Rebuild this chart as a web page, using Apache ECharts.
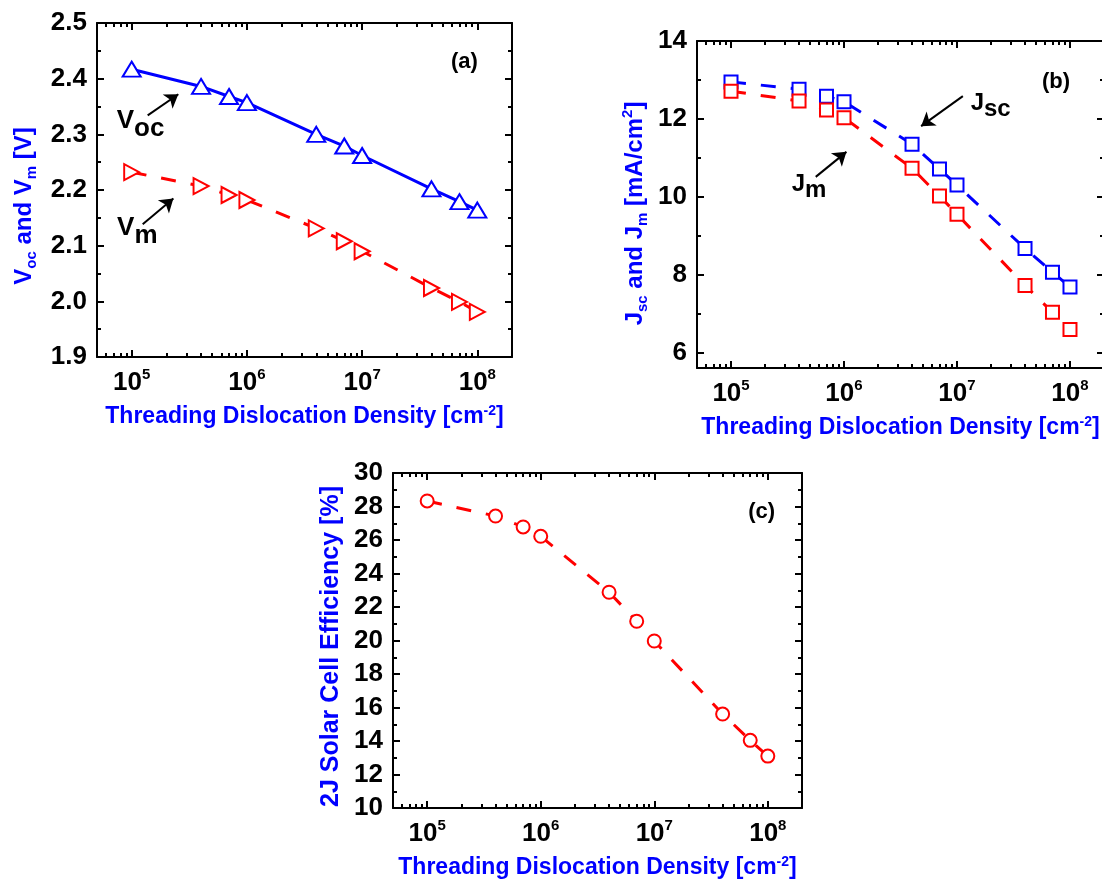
<!DOCTYPE html>
<html><head><meta charset="utf-8">
<script src="https://cdn.jsdelivr.net/npm/echarts@6/dist/echarts.min.js"></script>
<style>html,body{margin:0;padding:0;background:#fff}#c{width:1102px;height:884px}</style>
</head><body><div id="c"></div>
<script>
// ---------------- data ----------------
const tdd = [1e5, 4e5, 7e5, 1e6, 4e6, 7e6, 1e7, 4e7, 7e7, 1e8];
const voc = [2.417, 2.386, 2.368, 2.357, 2.300, 2.279, 2.262, 2.202, 2.179, 2.164];
const vm  = [2.232, 2.207, 2.191, 2.182, 2.131, 2.108, 2.090, 2.024, 1.999, 1.981];
const jsc = [12.95, 12.76, 12.58, 12.44, 11.35, 10.71, 10.30, 8.67, 8.06, 7.68];
const jm  = [12.71, 12.46, 12.23, 12.03, 10.73, 10.02, 9.55, 7.72, 7.03, 6.59];
const eff = [28.33, 27.43, 26.78, 26.22, 22.88, 21.15, 19.97, 15.61, 14.04, 13.10];
const xTicks  = [1e5, 1e6, 1e7, 1e8];
const yTicksA = [1.9, 2.0, 2.1, 2.2, 2.3, 2.4, 2.5];
const yTicksB = [6, 8, 10, 12, 14];
const yTicksC = [10, 12, 14, 16, 18, 20, 22, 24, 26, 28, 30];

// ---------------- helpers ----------------
const BLUE = '#0000ff', RED = '#ff0000';
const FONT = "'Liberation Sans', Arial, Helvetica, sans-serif";
const X_MIN = 5e4, X_MAX = 2e8;

function midpoints(a){ const r=[]; for(let i=0;i<a.length-1;i++) r.push(+((a[i]+a[i+1])/2).toFixed(6)); return r; }
function logMinors(){ const r=[]; for(let d=4; d<=8; d++) for(let m=2;m<=9;m++){ const v=m*Math.pow(10,d); if(v>X_MIN && v<X_MAX) r.push(v);} return r; }
const xMinor = logMinors();

function T(size, color, extra){ return Object.assign({fontSize:size, fontWeight:'bold', fontFamily:FONT, color:color||'#000'}, extra||{}); }
function Z(size, extra){ return Object.assign({fontSize:size, fontWeight:'bold', fontFamily:FONT, fill:'#000'}, extra||{}); }

const xLabelRich = { b: T(26,'#000',{lineHeight:32}), sup: T(15,'#000',{lineHeight:15, verticalAlign:'top'}) };
function xLabelFmt(v){ const e=Math.log10(v); if(Math.abs(e-Math.round(e))>1e-6) return ''; return '{b|10}{sup|'+Math.round(e)+'}'; }
const titleRich = {
  b: T(23, BLUE, {lineHeight:26}),
  sup: T(14, BLUE, {lineHeight:14, verticalAlign:'top'})
};
function yTitleRich(size){
  return {
    b: T(size, BLUE, {lineHeight:30}),
    s: T(15, BLUE, {lineHeight:15, verticalAlign:'bottom'}),
    sup: T(15, BLUE, {lineHeight:15, verticalAlign:'top'})
  };
}

const grids=[], xAxes=[], yAxes=[], series=[];
const AXLINE = {show:true, onZero:false, lineStyle:{color:'#000', width:2}};
const TMAJ = {show:true, inside:true, length:7, lineStyle:{color:'#000', width:2}};
const TMIN = {show:true, inside:true, length:4, lineStyle:{color:'#000', width:2}};

function addPanel(p){
  const g = grids.length;
  grids.push(Object.assign({outerBoundsMode:'none', containLabel:false}, p.rect));
  grids.push(Object.assign({outerBoundsMode:'none', containLabel:false}, p.rect));
  const xi = xAxes.length, yi = yAxes.length;
  const baseX = {type:'log', logBase:10, min:X_MIN, max:X_MAX, splitLine:{show:false}, minorTick:{show:false}, axisPointer:{show:false}};
  xAxes.push(Object.assign({}, baseX, {gridIndex:g, position:'bottom', axisLine:AXLINE,
    axisTick:Object.assign({customValues:xTicks}, TMAJ),
    axisLabel:{show:true, customValues:xTicks, margin:10, formatter:xLabelFmt, rich:xLabelRich},
    name:'{b|Threading Dislocation Density [cm}{sup|-2}{b|]}', nameLocation:'middle', nameGap:p.xNameGap,
    nameTextStyle:{rich:titleRich}}));
  xAxes.push(Object.assign({}, baseX, {gridIndex:g, position:'top', axisLine:AXLINE,
    axisTick:Object.assign({customValues:xTicks}, TMAJ), axisLabel:{show:false}}));
  xAxes.push(Object.assign({}, baseX, {gridIndex:g+1, position:'bottom', axisLine:{show:false},
    axisTick:Object.assign({customValues:xMinor}, TMIN), axisLabel:{show:false}}));
  xAxes.push(Object.assign({}, baseX, {gridIndex:g+1, position:'top', axisLine:{show:false},
    axisTick:Object.assign({customValues:xMinor}, TMIN), axisLabel:{show:false}}));

  const yMinor = midpoints(p.yTicks);
  const baseY = {type:'value', min:p.yMin, max:p.yMax, splitLine:{show:false}, minorTick:{show:false}, axisPointer:{show:false}};
  const ns = p.yNameSize || 24;
  yAxes.push(Object.assign({}, baseY, {gridIndex:g, position:'left', axisLine:AXLINE,
    axisTick:Object.assign({customValues:p.yTicks}, TMAJ),
    axisLabel:Object.assign(T(26,'#000'), {show:true, customValues:p.yTicks, margin:10, formatter:p.yFmt}),
    name:p.yName, nameLocation:'middle', nameRotate:90, nameGap:p.yNameGap,
    nameTextStyle:Object.assign(T(ns, BLUE, {lineHeight:30}), {rich:yTitleRich(ns), padding:[0, p.yNameShift*2, 0, 0]})}));
  yAxes.push(Object.assign({}, baseY, {gridIndex:g, position:'right', axisLine:AXLINE,
    axisTick:Object.assign({customValues:p.yTicks}, TMAJ), axisLabel:{show:false}}));
  yAxes.push(Object.assign({}, baseY, {gridIndex:g+1, position:'left', axisLine:{show:false},
    axisTick:Object.assign({customValues:yMinor}, TMIN), axisLabel:{show:false}}));
  yAxes.push(Object.assign({}, baseY, {gridIndex:g+1, position:'right', axisLine:{show:false},
    axisTick:Object.assign({customValues:yMinor}, TMIN), axisLabel:{show:false}}));
  return {xi, yi};
}

function pairs(ys){ return tdd.map((x,i)=>[x, ys[i]]); }
function lineSeries(ax, name, ys, color, symbol, size, rotate, dashed){
  return {type:'line', name, xAxisIndex:ax.xi, yAxisIndex:ax.yi, data:pairs(ys),
    symbol, symbolSize:size, symbolRotate:rotate||0, showSymbol:true,
    itemStyle:{color:'#fff', borderColor:color, borderWidth:2},
    lineStyle:{color, width:3, type: dashed ? [15,15] : 'solid'},
    emphasis:{disabled:true}, z:3};
}
const arrowLine = (a,b)=>[{coord:a},{coord:b}];
function arrows(list){
  return {silent:true, symbol:['none','arrow'], symbolSize:13, label:{show:false},
    lineStyle:{color:'#000', width:2, type:'solid'}, itemStyle:{color:'#000'}, emphasis:{disabled:true},
    data:list.map(l=>arrowLine(l[0], l[1]))};
}

// ---------------- panel (a) ----------------
const A = addPanel({rect:{left:97, top:23, width:415, height:334}, yMin:1.9, yMax:2.5, yTicks:yTicksA,
  yFmt:v=>v.toFixed(1), yName:'{b|V}{s|oc}{b| and V}{s|m}{b| [V]}', yNameGap:58, yNameShift:16, xNameGap:47});
const sVoc = lineSeries(A, 'Voc', voc, BLUE, 'triangle', [18,15], 0, false);
const sVm  = lineSeries(A, 'Vm', vm, RED, 'triangle', [16,15], -90, true);
sVoc.markLine = arrows([[[1.377e5, 2.334],[2.54e5, 2.372]], [[1.246e5, 2.1386],[2.30e5, 2.1847]]]);
series.push(sVoc, sVm);

// ---------------- panel (b) ----------------
const B = addPanel({rect:{left:697, top:41, width:407, height:327}, yMin:5.6, yMax:14, yTicks:yTicksB,
  yFmt:v=>String(v), yName:'{b|J}{s|sc}{b| and J}{s|m}{b| [mA/cm}{sup|2}{b|]}', yNameGap:47, yNameShift:9, xNameGap:47});
const sJsc = lineSeries(B, 'Jsc', jsc, BLUE, 'rect', 13, 0, true);
const sJm  = lineSeries(B, 'Jm', jm, RED, 'rect', 13, 0, true);
sJsc.markLine = arrows([[[1.127e7, 12.585],[4.814e6, 11.813]], [[5.62e5, 10.509],[1.051e6, 11.152]]]);
series.push(sJsc, sJm);

// ---------------- panel (c) ----------------
const C = addPanel({rect:{left:393, top:473, width:409, height:335}, yMin:10, yMax:30, yTicks:yTicksC,
  yFmt:v=>String(v), yName:'2J Solar Cell Efficiency [%]', yNameSize:25, yNameGap:47, yNameShift:6, xNameGap:47});
const sEff = lineSeries(C, 'Efficiency', eff, RED, 'circle', 13, 0, true);
series.push(sEff);

// ---------------- annotations (placed in data coordinates) ----------------
const richA = { b: Z(26,{lineHeight:34, verticalAlign:'top'}), s: Z(26,{lineHeight:34, verticalAlign:'bottom'}) };
const richB = { b: Z(24,{lineHeight:30, verticalAlign:'top'}), s: Z(24,{lineHeight:30, verticalAlign:'bottom'}) };
const annotations = [
  {ax:A, at:[1.195e5, 2.3163], text:'{b|V}{s|oc}', rich:richA},
  {ax:A, at:[1.118e5, 2.1242], text:'{b|V}{s|m}', rich:richA},
  {ax:A, at:[7.73e7, 2.4294], text:'(a)', size:22},
  {ax:B, at:[1.987e7, 12.33], text:'{b|J}{s|sc}', rich:richB},
  {ax:B, at:[4.9e5, 10.24], text:'{b|J}{s|m}', rich:richB},
  {ax:B, at:[7.51e7, 12.953], text:'(b)', size:22},
  {ax:C, at:[8.81e7, 27.69], text:'(c)', size:22}
];

const chart = echarts.init(document.getElementById('c'), null, {renderer:'canvas'});
chart.setOption({
  backgroundColor:'#fff', animation:false,
  textStyle:{fontFamily:FONT, fontWeight:'bold'},
  grid:grids, xAxis:xAxes, yAxis:yAxes, series
});
const graphics = annotations.map(a=>{
  const p = chart.convertToPixel({xAxisIndex:a.ax.xi, yAxisIndex:a.ax.yi}, a.at);
  const style = Object.assign(Z(a.size||26), {text:a.text, align:'center', verticalAlign:'middle'});
  if (a.rich) style.rich = a.rich;
  return {type:'text', x:p[0], y:p[1], silent:true, z:10, style};
});
chart.setOption({graphic:graphics});
</script>
</body></html>
